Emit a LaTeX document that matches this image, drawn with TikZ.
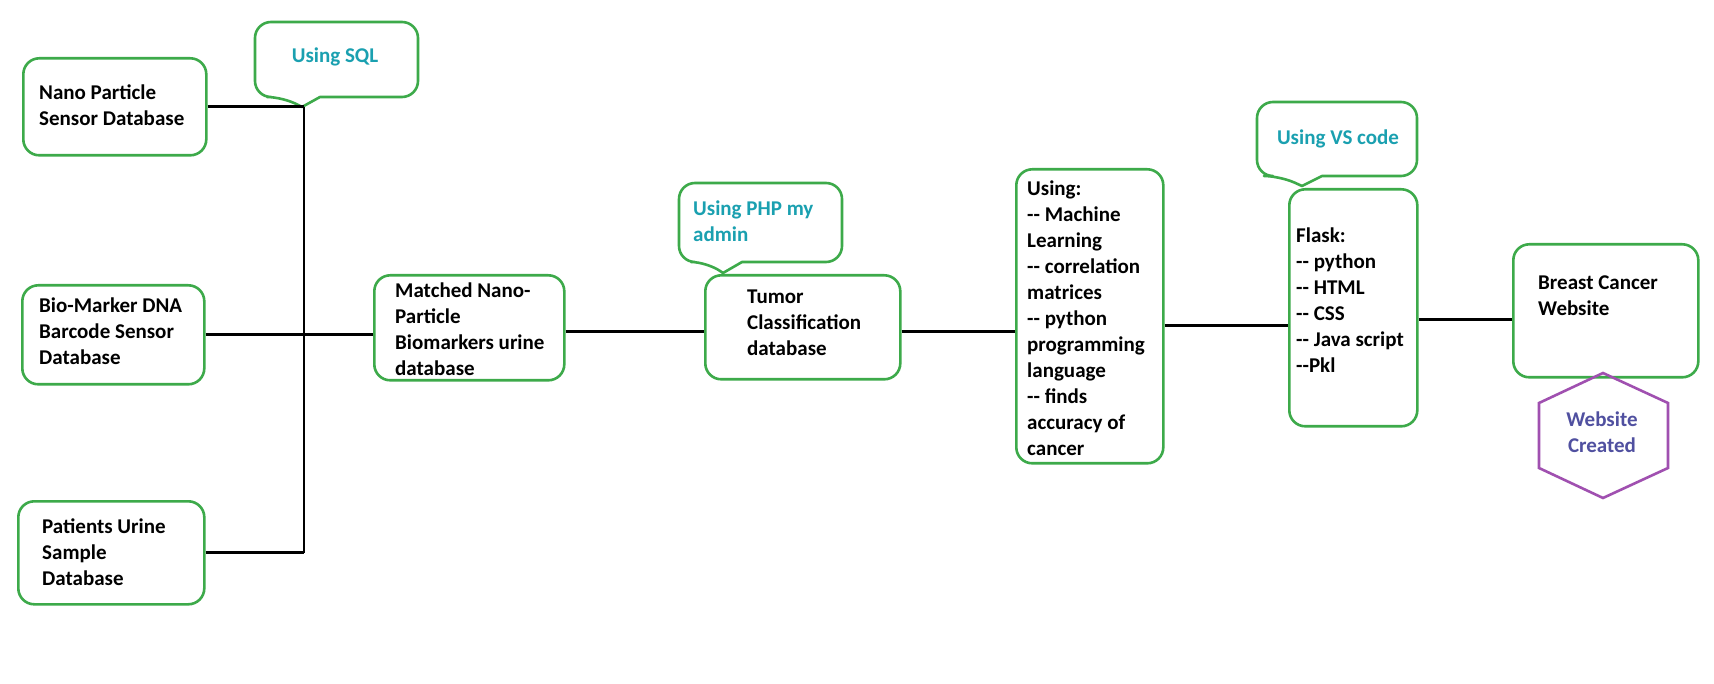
\documentclass[tikz,border=0pt]{standalone}
\usepackage{fontspec}
\setmainfont{Carlito}
\definecolor{boxgreen}{RGB}{61,170,74}
\definecolor{tealtxt}{RGB}{26,160,176}
\definecolor{hexpurple}{RGB}{160,80,176}
\definecolor{hextxt}{RGB}{80,80,160}
\newcommand\dd{-\kern0pt-}
\tikzset{
  box/.style={draw=boxgreen, line width=2.6pt, rounded corners=16pt, inner sep=0pt, anchor=north west},
  txt/.style={font=\bfseries\fontsize{21}{26}\selectfont, align=left, anchor=west, inner sep=0pt},
  ctxt/.style={font=\bfseries\fontsize{21}{26}\selectfont, text=tealtxt, inner sep=0pt},
  callout/.style={draw=boxgreen, line width=2.6pt, line join=round},
  conn/.style={draw=black, line width=2.8pt},
  hexline/.style={draw=hexpurple, line width=2.6pt, line join=miter}
}
\begin{document}
\begin{tikzpicture}[x=1pt,y=-1pt]
\useasboundingbox[fill=white] (0,0) rectangle (1714,684);

% callout shapes
\draw[callout] (302,107) -- (320,97) [rounded corners=16pt] -- (418,97) -- (418,22) -- (255,22) -- (255,97) -- (283,97) [sharp corners] -- cycle;
\draw[callout] (723,273) -- (742,262) [rounded corners=16pt] -- (842,262) -- (842,183) -- (679,183) -- (679,262) -- (707,262) [sharp corners] -- cycle;
\draw[callout] (1302,186) -- (1322,176) [rounded corners=16pt] -- (1417,176) -- (1417,102) -- (1257,102) -- (1257,176) -- (1280,176) [sharp corners] -- cycle;

\node[ctxt] (sql) at (335,57) {Using SQL};
\node[ctxt, anchor=west, align=left] (php) at (693,221) {Using PHP my\\admin};
\node[ctxt] (vs) at (1338,139) {Using VS code};

% boxes
\node[box, minimum width=183pt, minimum height=97pt] (nano) at (22,57) {};
\node[box, minimum width=182pt, minimum height=99pt] (bio) at (21,284) {};
\node[box, minimum width=186pt, minimum height=103pt] (pat) at (17,500) {};
\node[box, minimum width=190pt, minimum height=105pt] (matched) at (373,274) {};
\node[box, minimum width=195pt, minimum height=104pt] (tumor) at (704,274) {};
\node[box, minimum width=147pt, minimum height=294pt] (ml) at (1015,168) {};
\node[box, minimum width=128pt, minimum height=237pt] (flask) at (1288,188) {};
\node[box, minimum width=185pt, minimum height=133pt] (breast) at (1512,243) {};

% texts
\node[txt] (nanot) at (39,105) {Nano Particle\\Sensor Database};
\node[txt] (biot) at (39,331) {Bio-Marker DNA\\Barcode Sensor\\Database};
\node[txt] (patt) at (42,552) {Patients Urine\\Sample\\Database};
\node[txt] (matchedt) at (395,329) {Matched Nano-\\Particle\\Biomarkers urine\\database};
\node[txt] (tumort) at (747,323) {Tumor\\Classification\\database};
\node[txt] (mlt) at (1027,318) {Using:\\\dd{} Machine\\Learning\\\dd{} correlation\\matrices\\\dd{} python\\programming\\language\\\dd{} finds\\accuracy of\\cancer};
\node[txt] (flaskt) at (1296,300) {Flask:\\\dd{} python\\\dd{} HTML\\\dd{} CSS\\\dd{} Java script\\\dd{}Pkl};
\node[txt] (breastt) at (1538,296) {Breast Cancer\\Website};

% hexagon
\draw[hexline] (1603,373) -- (1668,403) -- (1668,468) -- (1603,498) -- (1539,468) -- (1539,403) -- cycle;
\node[font=\bfseries\fontsize{21}{26}\selectfont, text=hextxt, align=center, inner sep=0pt] (hex) at (1602,432) {Website\\Created};

% connectors
\coordinate (bus) at (304,0);
\draw[conn] (nano.east) -- (nano.east -| bus);
\draw[conn] (nano.east -| bus) -- (pat.east -| bus);
\draw[conn] (bio.east) -- (bio.east -| matched.west);
\draw[conn] (pat.east) -- (pat.east -| bus);
\draw[conn] ([yshift=-4pt]matched.east) -- ([yshift=-4pt]matched.east -| tumor.west);
\draw[conn] ([yshift=-4pt]tumor.east) -- ([yshift=-4pt]tumor.east -| ml.west);
\draw[conn] ([yshift=-9pt]ml.east) -- ([yshift=-9pt]ml.east -| flask.west);
\draw[conn] ([yshift=-12pt]flask.east) -- ([yshift=-12pt]flask.east -| breast.west);
\end{tikzpicture}
\end{document}
